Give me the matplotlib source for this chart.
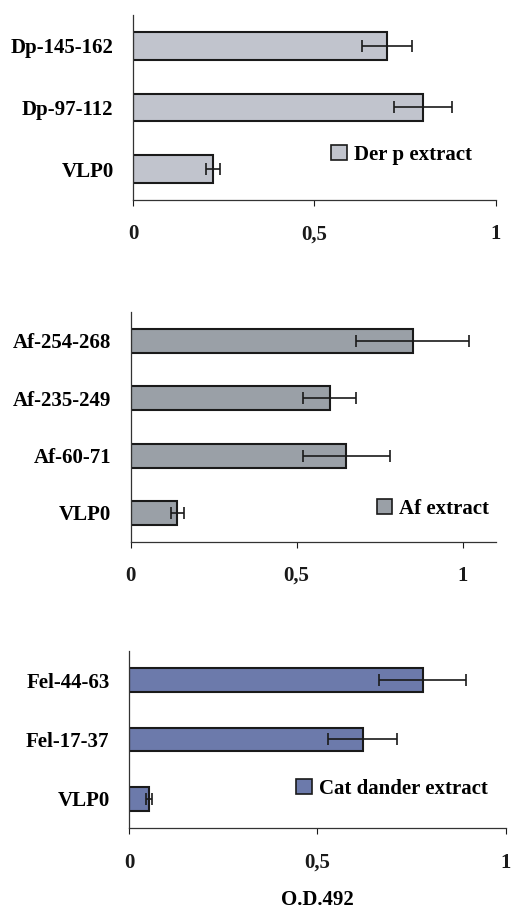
import matplotlib
matplotlib.use('Agg')
import matplotlib.pyplot as plt
from matplotlib.patches import Patch

plt.rcParams['font.family'] = ['Liberation Serif', 'DejaVu Serif']
plt.rcParams['font.weight'] = 'bold'

# data (top bar first)
dp_labels = ['Dp-145-162', 'Dp-97-112', 'VLP0']
dp_values = [0.70, 0.80, 0.22]
dp_errors = [0.07, 0.08, 0.02]

af_labels = ['Af-254-268', 'Af-235-249', 'Af-60-71', 'VLP0']
af_values = [0.85, 0.60, 0.65, 0.14]
af_errors = [0.17, 0.08, 0.13, 0.02]

fel_labels = ['Fel-44-63', 'Fel-17-37', 'VLP0']
fel_values = [0.78, 0.62, 0.053]
fel_errors = [0.115, 0.092, 0.008]

xticks = [0, 0.5, 1]
xticklabels = ['0', '0,5', '1']

fig = plt.figure(figsize=(5.11, 9.09), dpi=100)

panels = [
    # labels, values, errors, colour, legend text, axes rect, xmax, bar height, legend anchor
    (dp_labels, dp_values, dp_errors, '#c1c4cd', 'Der p extract',
     [0.2603, 0.780, 0.7098, 0.2035], 1.0, 0.45, (0.518, 0.245)),
    (af_labels, af_values, af_errors, '#9aa0a7', 'Af extract',
     [0.2558, 0.4041, 0.7143, 0.2524], 1.1, 0.42, (0.645, 0.1425)),
    (fel_labels, fel_values, fel_errors, '#6c7aab', 'Cat dander extract',
     [0.2524, 0.0888, 0.7372, 0.1954], 1.0, 0.40, (0.4165, 0.221)),
]

for labels, vals, errs, col, legtxt, rect, xmax, bh, anchor in panels:
    ax = fig.add_axes(rect)
    n = len(labels)
    ypos = list(range(n - 1, -1, -1))
    ax.barh(ypos, vals, height=bh, color=col, edgecolor='#1a1a1a', linewidth=1.5,
            xerr=errs, error_kw=dict(ecolor='#1a1a1a', elinewidth=1.2, capsize=4.5, capthick=1.2))
    ax.set_xlim(0, xmax)
    ax.set_ylim(-0.5, n - 0.5)
    ax.set_yticks(ypos)
    ax.set_yticklabels(labels, fontsize=15, fontweight='bold')
    ax.set_xticks(xticks)
    ax.set_xticklabels(xticklabels, fontsize=15, fontweight='bold')
    ax.tick_params(axis='y', length=0, pad=14)
    ax.tick_params(axis='x', direction='out', length=4.5, width=0.8, pad=13, colors='#1a1a1a')
    for s in ['top', 'right']:
        ax.spines[s].set_visible(False)
    for s in ['left', 'bottom']:
        ax.spines[s].set_linewidth(0.9)
        ax.spines[s].set_color('#333333')
    h = [Patch(facecolor=col, edgecolor='#1a1a1a', linewidth=1.2)]
    ax.legend(h, [legtxt], loc='center left', bbox_to_anchor=anchor, frameon=False,
              borderpad=0, handlelength=0.75, handleheight=0.75, handletextpad=0.35,
              prop={'size': 15, 'weight': 'bold'})
    last_ax = ax

last_ax.set_xlabel('O.D.492', fontsize=15, fontweight='bold', labelpad=12.5)

fig.savefig('out.png', dpi=100)
